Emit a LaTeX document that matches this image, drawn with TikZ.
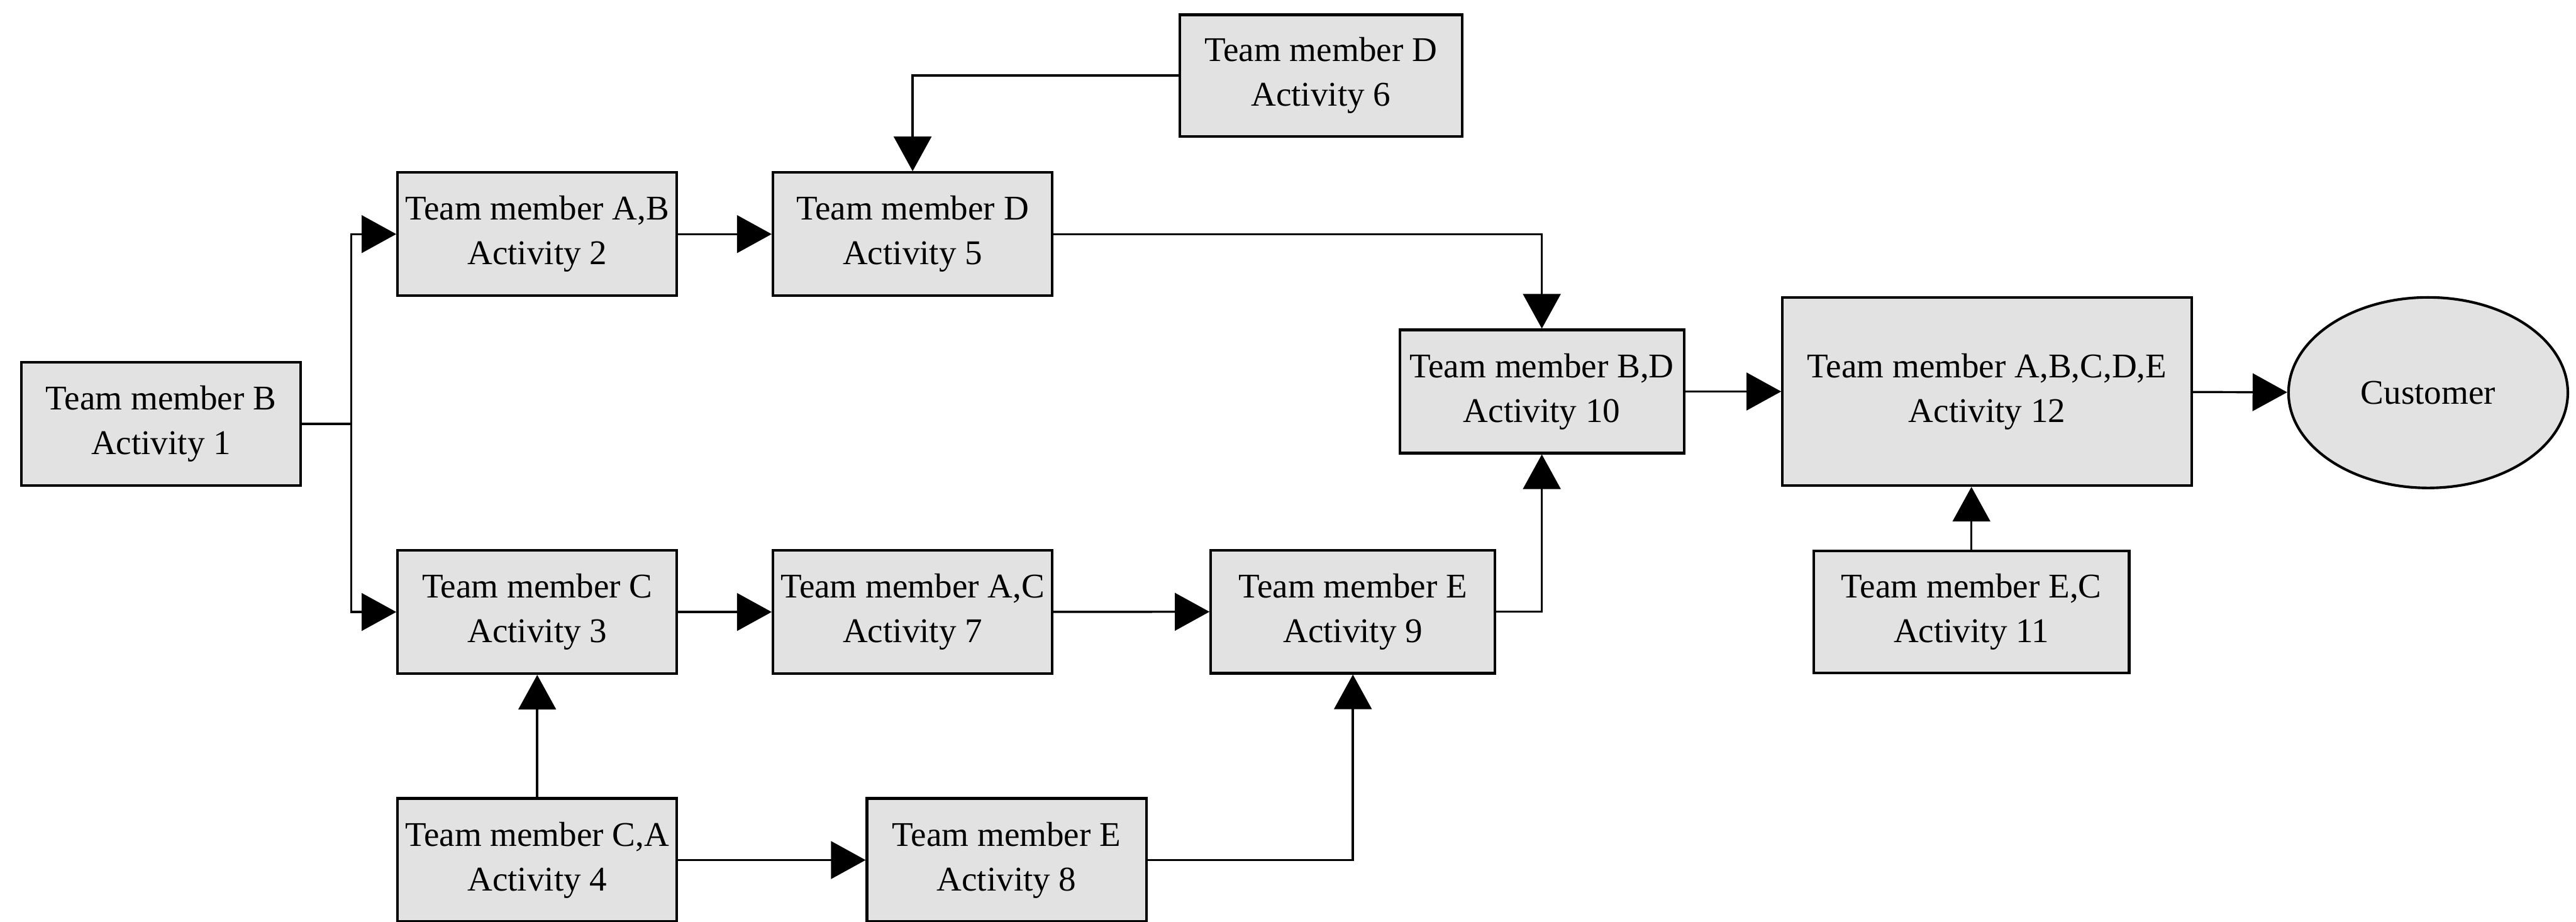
\documentclass[tikz,border=0pt]{standalone}
\usepackage{fontspec}
\setmainfont{Liberation Serif}
\usetikzlibrary{shapes.geometric, arrows.meta}

\definecolor{actfill}{RGB}{226,226,226}

\tikzset{
  act/.style={draw, fill=actfill, line width=0.9pt, inner sep=0pt,
    minimum width=34mm, minimum height=15mm, align=center,
    font=\fontsize{12}{15.5}\selectfont},
  flow/.style={line width=0.75pt, -{Triangle[length=12pt,width=13pt]}},
}

\begin{document}
\begin{tikzpicture}[x=0.2mm,y=0.2mm,yscale=-1,xscale=1]
\path[use as bounding box] (0,0) rectangle (1568,561);

% Activity boxes, top row
\node[act] (a2) at (327,142.5) {Team member A,B\\Activity 2};
\node[act] (a5) at (555.5,142.5) {Team member D\\Activity 5};
\node[act, minimum width=34.4mm, minimum height=14.8mm] (a6) at (804,46) {Team member D\\Activity 6};

% middle row
\node[act] (a1) at (98,258) {Team member B\\Activity 1};
\node[act, minimum width=34.6mm] (a10) at (938.5,238.3) {Team member B,D\\Activity 10};
\node[act, minimum width=49.8mm, minimum height=22.9mm] (a12) at (1209.5,238.3) {Team member A,B,C,D,E\\Activity 12};
\node[act, ellipse, minimum width=34mm, minimum height=23.2mm] (cust) at (1478,239) {Customer};

% lower rows
\node[act] (a3) at (327,372.5) {Team member C\\Activity 3};
\node[act] (a7) at (555.5,372.5) {Team member A,C\\Activity 7};
\node[act, minimum width=34.6mm] (a9) at (823.5,372.3) {Team member E\\Activity 9};
\node[act, minimum width=38.4mm, minimum height=14.8mm] (a11) at (1200,372.5) {Team member E,C\\Activity 11};
\node[act] (a4) at (327,523.5) {Team member C,A\\Activity 4};
\node[act] (a8) at (612.7,523.5) {Team member E\\Activity 8};

%Straight Lines: split after activity 1
\coordinate (split) at (213.7,258);
\draw[line width=0.75pt] (a1.east) -- (split);
\draw[flow] (split) |- (a2.west);
\draw[flow] (split) |- (a3.west);

%Straight Lines
\draw[flow] (a2) -- (a5);
\draw[flow] (a6.west) -| (a5.north);
\draw[flow] (a5.east) -| (a10.north);
\draw[flow] (a3) -- (a7);
\draw[flow] (a7) -- (a9);
\draw[flow] (a4) -- (a3);
\draw[flow] (a4) -- (a8);
\draw[flow] (a8.east) -| (a9.south);
\draw[flow] (a9.east) -| (a10.south);
\draw[flow] (a10) -- (a12);
\draw[flow] (a11.north) -- (a11.north |- a12.south);
\draw[flow] (a12) -- (cust);

\end{tikzpicture}
\end{document}
